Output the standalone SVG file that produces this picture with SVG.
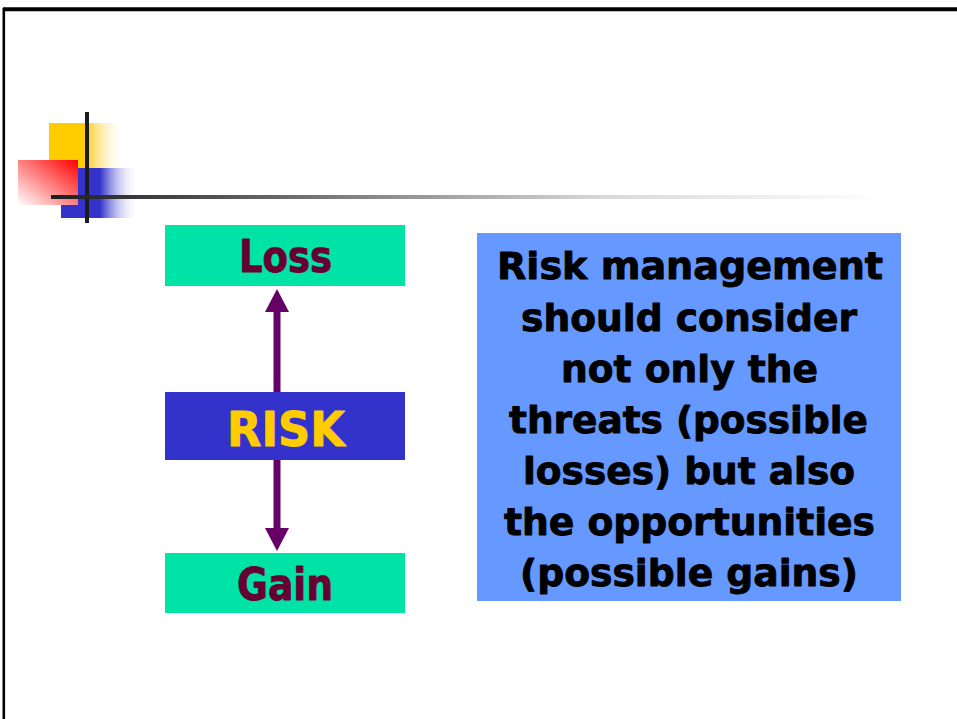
<svg xmlns="http://www.w3.org/2000/svg" width="957" height="719" viewBox="0 0 957 719">
<style>
.lbl{font-family:"DejaVu Sans","Verdana",sans-serif;font-weight:bold;text-anchor:middle;stroke-width:0.9px;stroke-linejoin:round}
.gbox{fill:#00E3A6}
.dark{fill:#660033;stroke:#660033}
.note{font-size:38px;fill:#000;stroke:#000}
.conn{stroke:#660066;stroke-width:7;fill:none}
</style>
<defs>
<linearGradient id="gy" x1="0" y1="0" x2="1" y2="0">
<stop offset="0" stop-color="#FFCC00"/><stop offset="0.49" stop-color="#FFCC00"/><stop offset="0.52" stop-color="#FFD138"/><stop offset="1" stop-color="#FFFFFF" stop-opacity="0"/>
</linearGradient>
<linearGradient id="gb" x1="0" y1="0" x2="1" y2="0">
<stop offset="0" stop-color="#3333CC"/><stop offset="0.5" stop-color="#3333CC"/><stop offset="1" stop-color="#FFFFFF" stop-opacity="0"/>
</linearGradient>
<linearGradient id="gr" x1="1" y1="0" x2="0" y2="1">
<stop offset="0" stop-color="#FF0000"/><stop offset="1" stop-color="#FFFFFF"/>
</linearGradient>
<linearGradient id="gl" gradientUnits="userSpaceOnUse" x1="51" y1="0" x2="885" y2="0">
<stop offset="0" stop-color="#1E1E1E"/><stop offset="0.19" stop-color="#505050"/><stop offset="0.66" stop-color="#D8D8D8"/><stop offset="1" stop-color="#FFFFFF"/>
</linearGradient>
<marker id="ah" markerUnits="userSpaceOnUse" markerWidth="23" markerHeight="24" refX="0" refY="12" orient="auto">
<path d="M0,0 L23,12 L0,24 Z" fill="#660066"/>
</marker>
</defs>
<rect width="957" height="719" fill="#FFFFFF"/>
<g id="frame">
<line x1="3" y1="9.3" x2="957" y2="9.3" stroke="#000" stroke-width="4"/>
<line x1="3.8" y1="8" x2="3.8" y2="719" stroke="#000" stroke-width="2.6"/>
</g>
<g id="decoration">
<rect x="49" y="123" width="76" height="45" fill="url(#gy)"/>
<rect x="61" y="168" width="78" height="50" fill="url(#gb)"/>
<rect x="18" y="160" width="60" height="45" fill="url(#gr)"/>
<rect x="85" y="112" width="4" height="111" fill="#1C1C1C"/>
<rect x="51" y="195" width="834" height="4" fill="url(#gl)"/>
</g>
<g id="connectors">
<line class="conn" x1="277" y1="392" x2="277" y2="312" marker-end="url(#ah)"/>
<line class="conn" x1="277" y1="456" x2="277" y2="528" marker-end="url(#ah)"/>
</g>
<g id="loss">
<rect class="gbox" x="165" y="225" width="240" height="61"/>
<text class="lbl dark" x="285.5" y="272" font-size="44" textLength="93" lengthAdjust="spacingAndGlyphs">Loss</text>
</g>
<g id="risk">
<rect x="165" y="392" width="240" height="68" fill="#3333CC"/>
<text class="lbl" x="286" y="446" font-size="48" fill="#FFCC00" stroke="#FFCC00" textLength="118" lengthAdjust="spacingAndGlyphs">RISK</text>
</g>
<g id="gain">
<rect class="gbox" x="165" y="553" width="240" height="60"/>
<text class="lbl dark" x="285" y="600" font-size="44" textLength="96" lengthAdjust="spacingAndGlyphs">Gain</text>
</g>
<g id="note">
<rect x="477" y="233" width="424" height="368" fill="#6699FF"/>
<text class="lbl note" x="690" y="279" textLength="386" lengthAdjust="spacingAndGlyphs">Risk management</text>
<text class="lbl note" x="689" y="331" textLength="336" lengthAdjust="spacingAndGlyphs">should consider</text>
<text class="lbl note" x="689.5" y="382" textLength="257" lengthAdjust="spacingAndGlyphs">not only the</text>
<text class="lbl note" x="688.5" y="433" textLength="359" lengthAdjust="spacingAndGlyphs">threats (possible</text>
<text class="lbl note" x="689" y="484" textLength="332" lengthAdjust="spacingAndGlyphs">losses) but also</text>
<text class="lbl note" x="689.5" y="535" textLength="371" lengthAdjust="spacingAndGlyphs">the opportunities</text>
<text class="lbl note" x="689" y="586" textLength="338" lengthAdjust="spacingAndGlyphs">(possible gains)</text>
</g>
</svg>
